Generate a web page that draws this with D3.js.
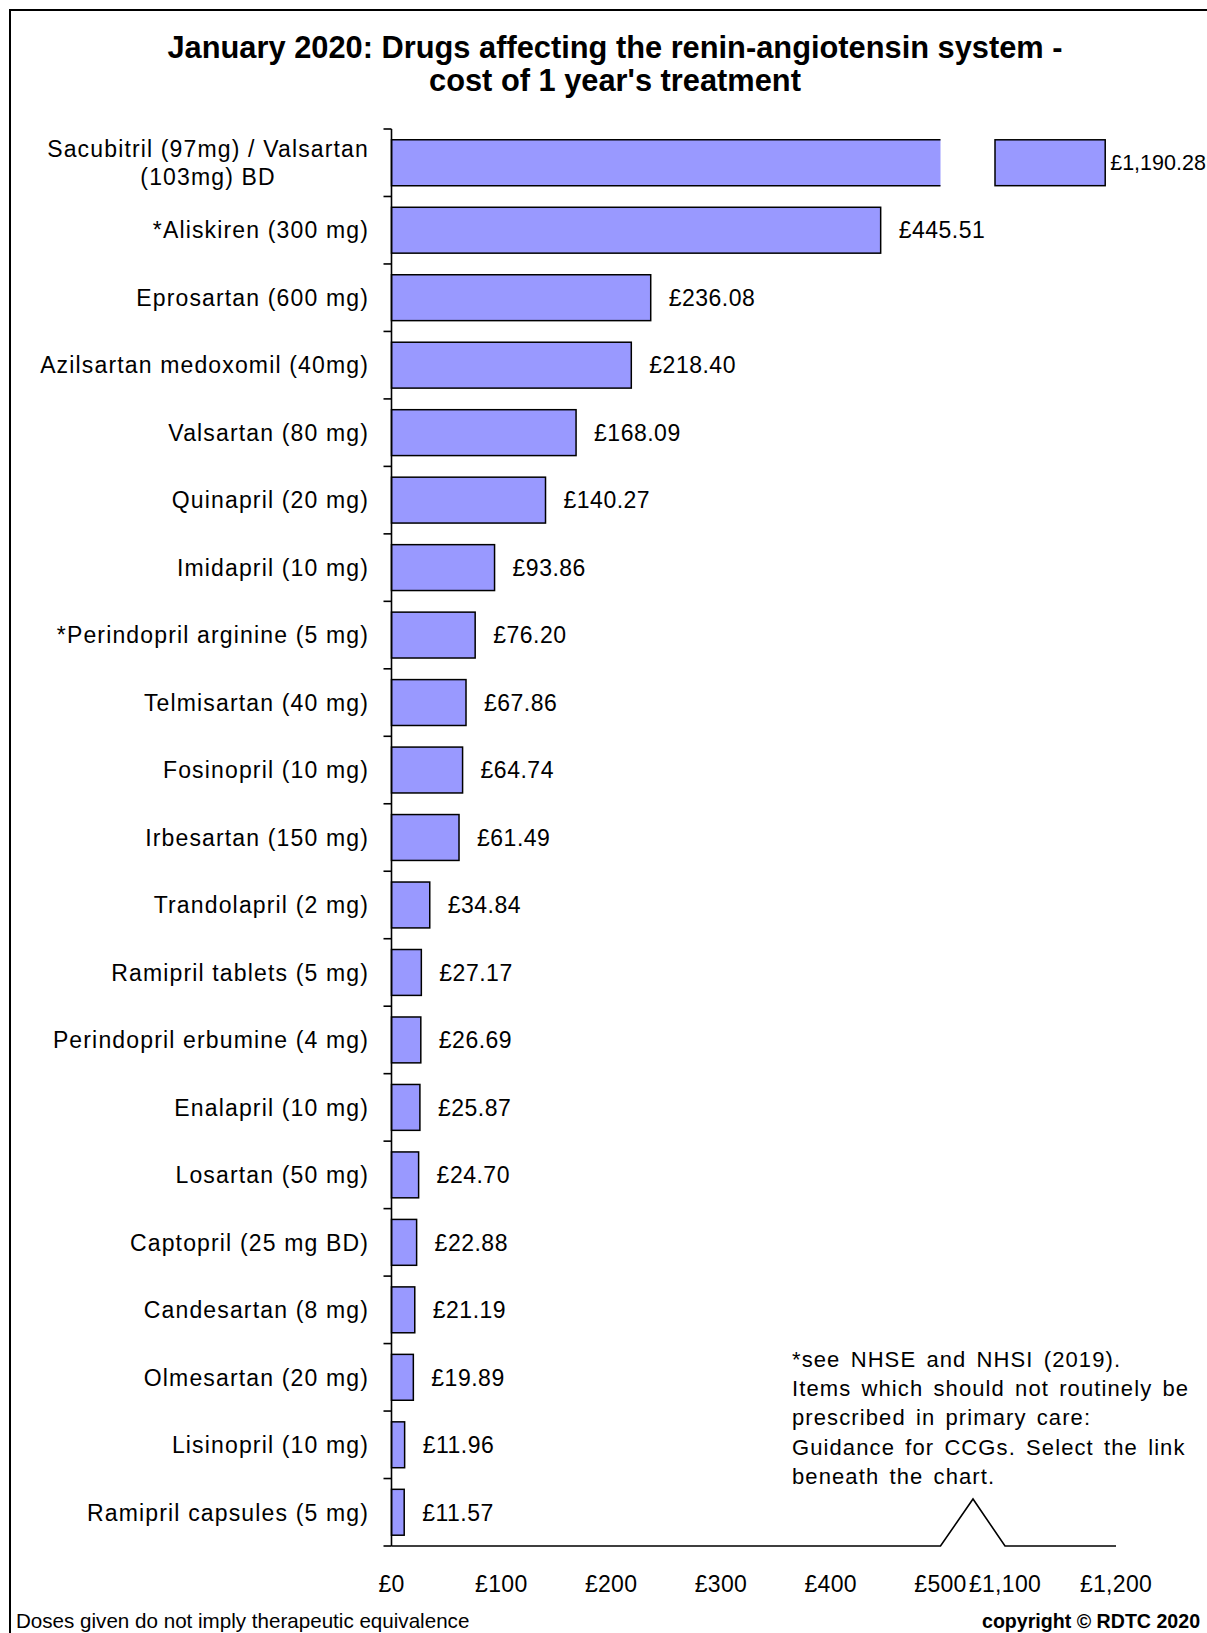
<!DOCTYPE html>
<html>
<head>
<meta charset="utf-8">
<script src="https://cdn.jsdelivr.net/npm/d3@7"></script>
<style>
  html, body { margin: 0; padding: 0; background: #fff; }
  svg { display: block; }
  text { font-family: "Liberation Sans", Arial, sans-serif; fill: #000; }
</style>
</head>
<body>
<svg id="chart" width="1207" height="1633"></svg>
<script>
// Annual cost per drug, most expensive first
const drugs = [
  "Sacubitril (97mg) / Valsartan\n(103mg) BD",
  "*Aliskiren (300 mg)",
  "Eprosartan (600 mg)",
  "Azilsartan medoxomil (40mg)",
  "Valsartan (80 mg)",
  "Quinapril (20 mg)",
  "Imidapril (10 mg)",
  "*Perindopril arginine (5 mg)",
  "Telmisartan (40 mg)",
  "Fosinopril (10 mg)",
  "Irbesartan (150 mg)",
  "Trandolapril (2 mg)",
  "Ramipril tablets (5 mg)",
  "Perindopril erbumine (4 mg)",
  "Enalapril (10 mg)",
  "Losartan (50 mg)",
  "Captopril (25 mg BD)",
  "Candesartan (8 mg)",
  "Olmesartan (20 mg)",
  "Lisinopril (10 mg)",
  "Ramipril capsules (5 mg)"
];
const costs = [1190.28, 445.51, 236.08, 218.40, 168.09, 140.27, 93.86, 76.20, 67.86,
  64.74, 61.49, 34.84, 27.17, 26.69, 25.87, 24.70, 22.88, 21.19, 19.89, 11.96, 11.57];

// Broken value axis: a lower segment and an upper segment
const lowerDomain = [0, 500];
const upperDomain = [1100, 1200];
const lowerTicks = [0, 100, 200, 300, 400, 500];
const upperTicks = [1100, 1200];

const titleLines = [
  "January 2020: Drugs affecting the renin-angiotensin system -",
  "cost of 1 year's treatment"
];
const noteLines = [
  "*see NHSE and NHSI (2019).",
  "Items which should not routinely be",
  "prescribed in primary care:",
  "Guidance for CCGs. Select the link",
  "beneath the chart."
];
const footerLeft = "Doses given do not imply  therapeutic equivalence";
const footerRight = "copyright \u00A9 RDTC 2020";

// ---- layout ----
const plotLeft = 391.5, plotTop = 129, plotBottom = 1546;
const lowerRight = 940.5, upperLeft = 1005, upperRight = 1116;
const breakPeakX = 973, breakPeakY = 1499;
const barFill = "#9999ff";
const lineCol = "#000";

const svg = d3.select("#chart");

const xLow = d3.scaleLinear().domain(lowerDomain).range([plotLeft, lowerRight]);
const xHigh = d3.scaleLinear().domain(upperDomain).range([upperLeft, upperRight]);
const y = d3.scaleBand().domain(drugs).range([plotTop, plotBottom])
  .paddingInner(0.32).paddingOuter(0.16);

// outer frame
svg.append("rect")
  .attr("x", 10).attr("y", 10).attr("width", 1230).attr("height", 1660)
  .attr("fill", "none").attr("stroke", lineCol).attr("stroke-width", 2);

// title
svg.append("g").selectAll("text").data(titleLines).join("text")
  .attr("x", 615).attr("y", (d, i) => 58 + i * 33)
  .attr("text-anchor", "middle")
  .style("font-size", "30.8px").style("font-weight", "bold")
  .text(d => d);

// bars
const bars = svg.append("g");
const fmtCost = v => "\u00A3" + d3.format(",.2f")(v);
const labelGap = 18;

drugs.forEach((name, i) => {
  const v = costs[i];
  const y0 = y(name), h = y.bandwidth();
  if (v <= lowerDomain[1]) {
    bars.append("rect")
      .attr("x", xLow(0)).attr("y", y0)
      .attr("width", xLow(v) - xLow(0)).attr("height", h)
      .attr("fill", barFill).attr("stroke", lineCol).attr("stroke-width", 1.5);
    bars.append("text")
      .attr("x", xLow(v) + labelGap).attr("y", y0 + h / 2).attr("dy", "0.36em")
      .style("font-size", "23px").style("letter-spacing", "0.5px")
      .text(fmtCost(v));
  } else {
    // lower piece, open at the break
    const xe = xLow(lowerDomain[1]);
    bars.append("rect")
      .attr("x", xLow(0)).attr("y", y0)
      .attr("width", xe - xLow(0)).attr("height", h)
      .attr("fill", barFill);
    bars.append("path")
      .attr("d", `M${xe},${y0}H${xLow(0)}V${y0 + h}H${xe}`)
      .attr("fill", "none").attr("stroke", lineCol).attr("stroke-width", 1.5);
    // upper piece
    const xs = xHigh(upperDomain[0]) - 10;
    bars.append("rect")
      .attr("x", xs).attr("y", y0)
      .attr("width", xHigh(v) - xs).attr("height", h)
      .attr("fill", barFill).attr("stroke", lineCol).attr("stroke-width", 1.5);
    bars.append("text")
      .attr("x", xHigh(v) + 5).attr("y", y0 + h / 2).attr("dy", "0.36em")
      .style("font-size", "21.5px")
      .text(fmtCost(v));
  }
});

// category axis
const yAxis = svg.append("g");
yAxis.append("line")
  .attr("x1", plotLeft).attr("x2", plotLeft)
  .attr("y1", plotTop).attr("y2", plotBottom)
  .attr("stroke", lineCol).attr("stroke-width", 1.6);
const bounds = drugs.map(d => y(d) - y.step() * 0.16).concat([plotBottom]);
yAxis.selectAll("line.tick").data(bounds).join("line")
  .attr("class", "tick")
  .attr("x1", plotLeft - 8).attr("x2", plotLeft)
  .attr("y1", d => d).attr("y2", d => d)
  .attr("stroke", lineCol).attr("stroke-width", 1.6);

const labelRight = 369;
drugs.forEach(name => {
  const lines = name.split("\n");
  const cy = y(name) + y.bandwidth() / 2;
  const t = yAxis.append("text")
    .style("font-size", "23px").style("letter-spacing", "1.15px");
  if (lines.length === 1) {
    t.attr("x", labelRight).attr("y", cy).attr("dy", "0.36em")
      .attr("text-anchor", "end").text(lines[0]);
  } else {
    t.text(lines[0]).attr("x", 0).attr("y", 0);
    const w = t.node().getComputedTextLength();
    t.text(null);
    const cx = labelRight - w / 2;
    const lh = 28;
    t.attr("text-anchor", "middle");
    lines.forEach((ln, k) => {
      t.append("tspan")
        .attr("x", cx)
        .attr("y", cy + (k - (lines.length - 1) / 2) * lh)
        .attr("dy", "0.36em")
        .text(ln);
    });
  }
});

// value axis with break
const xAxis = svg.append("g");
xAxis.append("path")
  .attr("d", `M${plotLeft},${plotBottom}H${xLow(lowerDomain[1])}` +
             `L${breakPeakX},${breakPeakY}L${xHigh(upperDomain[0])},${plotBottom}` +
             `H${xHigh(upperDomain[1])}`)
  .attr("fill", "none").attr("stroke", lineCol).attr("stroke-width", 1.6);

const fmtTick = v => "\u00A3" + d3.format(",")(v);
const tickLabels = lowerTicks.map(v => ({ v, x: xLow(v) }))
  .concat(upperTicks.map(v => ({ v, x: xHigh(v) })));
xAxis.selectAll("text").data(tickLabels).join("text")
  .attr("x", d => d.x).attr("y", 1592)
  .attr("text-anchor", "middle")
  .style("font-size", "23px").style("letter-spacing", "0.3px")
  .text(d => fmtTick(d.v));

// footnote about NHSE guidance
svg.append("g").selectAll("text").data(noteLines).join("text")
  .attr("x", 792).attr("y", (d, i) => 1367 + i * 29.2)
  .style("font-size", "22px").style("letter-spacing", "1.1px").style("word-spacing", "3px")
  .text(d => d);

// footer texts
svg.append("text")
  .attr("x", 16).attr("y", 1628)
  .style("font-size", "20.6px")
  .text(footerLeft);
svg.append("text")
  .attr("x", 982).attr("y", 1628)
  .style("font-size", "19.6px").style("font-weight", "bold")
  .text(footerRight);
</script>
</body>
</html>
